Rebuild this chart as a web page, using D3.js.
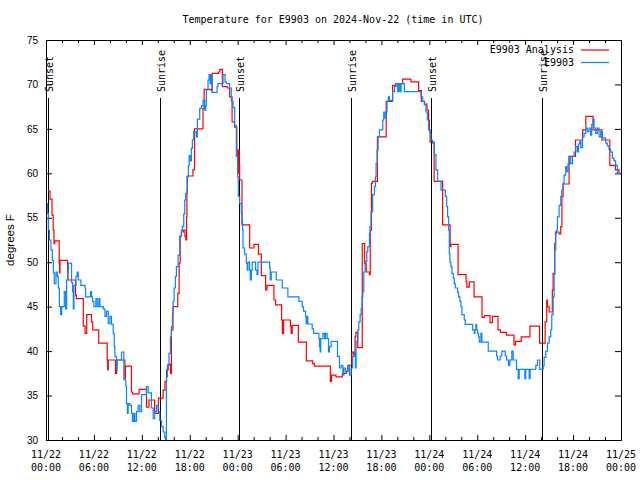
<!DOCTYPE html>
<html>
<head>
<meta charset="utf-8">
<script src="https://cdn.jsdelivr.net/npm/d3@7"></script>
<style>
  html, body { margin: 0; padding: 0; background: #fff; }
  svg { display: block; }
</style>
</head>
<body>
<svg id="chart" width="640" height="480"></svg>
<script>
// ---- Data (hours after 2024-11-22 00:00 UTC) ----
const titleText = "Temperature for E9903 on 2024-Nov-22 (time in UTC)";
const yLabel = "degrees F";
const seriesNames = ["E9903 Analysis", "E9903"];
const yTicks = [30, 35, 40, 45, 50, 55, 60, 65, 70, 75];
const xTickHours = [0, 6, 12, 18, 24, 30, 36, 42, 48, 54, 60, 66, 72];
const xTickLabels = [
  ["11/22", "00:00"], ["11/22", "06:00"], ["11/22", "12:00"], ["11/22", "18:00"],
  ["11/23", "00:00"], ["11/23", "06:00"], ["11/23", "12:00"], ["11/23", "18:00"],
  ["11/24", "00:00"], ["11/24", "06:00"], ["11/24", "12:00"], ["11/24", "18:00"],
  ["11/25", "00:00"]
];
const sunEventHours = [0.28, 14.25, 24.17, 38.17, 48.2, 62.17];
const sunEventNames = ["Sunset", "Sunrise", "Sunset", "Sunrise", "Sunset", "Sunrise"];

const analysisHours = [
  0.25, 0.5, 0.75, 0.9, 1.0, 1.1, 1.65, 1.7, 1.75, 2.7, 2.75, 3.7, 3.8, 4.67, 4.9, 5.1, 5.7, 5.85, 6.6, 7.66,
  7.72, 7.8, 8.7, 8.85, 9.875, 9.95, 10.7, 10.85, 11.66, 12.58, 12.9, 13.6, 14.08, 14.67, 14.9, 15.1, 15.3, 15.6, 15.7, 15.9,
  16.5, 16.67, 16.8, 16.95, 17.2, 17.4, 17.5, 17.6, 17.65, 17.7, 18.4, 18.6, 19.66, 19.8, 20.7, 20.8, 21.6, 21.75, 22.08, 22.7,
  23.0, 23.3, 23.6, 23.9, 24.0, 24.1, 24.2, 24.25, 24.54, 25.5, 26.04, 26.6, 26.96, 27.5, 27.67, 28.54, 28.75, 29.5, 29.6, 29.75,
  30.6, 30.7, 30.83, 31.6, 32.6, 33.4, 33.6, 35.6, 35.75, 36.3, 37.1, 37.6, 37.8, 38.3, 38.5, 38.7, 38.8, 39.04, 39.6, 39.9,
  40.1, 40.5, 40.6, 40.75, 40.9, 41.5, 42.6, 43.4, 43.8, 44.66, 45.7, 46.66, 47.0, 47.4, 47.7, 47.9, 48.0, 48.1, 48.6, 49.66,
  50.6, 50.7, 51.6, 52.6, 52.7, 53.0, 53.6, 54.6, 54.9, 55.6, 55.9, 56.6, 56.9, 57.66, 58.6, 58.8, 59.5, 60.6, 61.8, 62.5,
  62.7, 62.8, 63.0, 63.4, 63.5, 63.7, 63.8, 64.25, 64.45, 64.6, 64.75, 65.5, 66.3, 67.2, 67.6, 68.5, 69.6, 70.6, 71.3, 71.75, 71.9
];
const analysisTemps = [
  58.0, 57.1, 55.3, 53.6, 52.1, 52.4, 49.9, 48.8, 50.2, 49.1, 48.0, 46.3, 45.9, 42.8, 42.0, 44.1, 43.3, 42.4, 40.9, 39.0,
  37.9, 39.0, 37.5, 39.0, 36.9, 38.3, 35.4, 35.2, 35.7, 33.7, 34.5, 33.0, 34.7, 35.6, 36.6, 37.9, 38.5, 37.5, 42.4, 45.0,
  46.5, 49.9, 52.9, 53.4, 53.6, 52.9, 52.5, 55.1, 58.0, 59.7, 60.4, 65.0, 67.3, 69.45, 69.3, 71.25, 71.4, 71.7, 69.75, 69.6,
  68.6, 65.8, 65.2, 62.6, 60.0, 62.6, 61.0, 59.25, 54.2, 51.6, 52.0, 50.9, 48.5, 46.9, 47.4, 45.75, 45.2, 43.5, 42.0, 43.5,
  42.8, 42.0, 42.9, 41.0, 38.9, 38.6, 38.3, 36.6, 37.3, 37.1, 37.5, 37.7, 38.4, 39.9, 39.6, 41.6, 42.1, 40.4, 52.1, 49.9,
  48.9, 48.6, 53.6, 58.9, 59.1, 64.1, 68.1, 69.9, 70.1, 70.6, 70.3, 69.3, 68.1, 67.8, 67.1, 66.0, 64.9, 63.5, 59.1, 54.2,
  51.75, 52.0, 48.6, 47.8, 47.2, 47.8, 46.1, 43.8, 44.0, 43.2, 43.9, 42.4, 42.1, 41.8, 40.7, 41.1, 41.6, 42.8, 40.9, 43.3,
  45.75, 45.0, 44.4, 46.9, 48.75, 52.1, 53.4, 53.2, 54.0, 57.4, 58.8, 61.9, 63.75, 64.9, 66.4, 64.9, 63.75, 60.9, 60.4, 60.0, 60.0
];

const obsHours = [
  0.08, 0.2, 0.29, 0.42, 0.625, 0.79, 0.92, 1.04, 1.25, 1.42, 1.54, 1.67, 1.83, 1.96, 2.29, 2.46, 2.58, 2.71, 2.79, 3.2,
  3.33, 3.42, 3.5, 3.75, 3.92, 4.04, 4.375, 4.875, 4.96, 5.58, 5.71, 5.83, 6.0, 6.25, 6.42, 6.625, 6.75, 7.17, 7.375, 7.58,
  7.79, 8.0, 8.2, 8.42, 8.54, 8.625, 8.83, 8.92, 9.46, 9.75, 10.0, 10.08, 10.2, 10.29, 10.5, 10.71, 10.83, 11.0, 11.125, 11.33,
  11.54, 11.75, 11.96, 12.58, 12.79, 13.2, 13.42, 13.625, 13.83, 14.04, 14.25, 14.46, 14.67, 14.875, 14.96, 15.08, 15.2, 15.4, 15.58, 15.71,
  15.83, 15.92, 16.04, 16.2, 16.33, 16.54, 16.75, 16.96, 17.08, 17.25, 17.375, 17.5, 17.67, 17.83, 17.92, 18.08, 18.2, 18.33, 18.5, 18.83,
  18.96, 19.25, 19.46, 19.67, 19.875, 20.0, 20.08, 20.29, 20.42, 20.54, 20.67, 20.79, 21.42, 21.54, 22.17, 22.42, 22.58, 23.0, 23.2, 23.42,
  23.625, 23.83, 24.0, 24.08, 24.25, 24.46, 24.55, 24.62, 24.67, 24.875, 25.08, 25.2, 25.29, 25.5, 25.58, 25.71, 25.83, 26.25, 26.42, 26.54,
  28.0, 28.08, 28.2, 28.83, 29.58, 30.29, 31.67, 32.08, 32.25, 32.5, 32.58, 32.67, 32.79, 33.33, 33.5, 34.17, 34.25, 34.33, 34.4, 34.67,
  34.875, 35.0, 35.2, 35.375, 35.5, 35.7, 36.5, 36.75, 36.96, 37.17, 37.3, 37.5, 37.8, 38.0, 38.2, 38.4, 38.625, 38.75, 38.83, 39.04,
  39.17, 39.33, 39.46, 39.58, 39.67, 39.79, 39.96, 40.17, 40.29, 40.5, 40.58, 40.7, 40.9, 41.125, 41.25, 41.33, 41.46, 41.58, 41.75, 42.17,
  42.29, 42.46, 42.58, 42.7, 42.875, 43.0, 43.4, 43.625, 43.83, 44.04, 44.17, 44.33, 44.46, 44.875, 46.96, 47.17, 47.375, 47.58, 47.75, 47.9,
  48.08, 48.2, 48.4, 48.625, 48.83, 49.04, 49.46, 50.0, 50.17, 50.29, 50.42, 50.5, 50.58, 50.7, 50.83, 51.0, 51.125, 51.25, 51.54, 51.67,
  51.83, 51.96, 52.08, 52.375, 52.5, 53.42, 53.625, 53.7, 53.83, 53.92, 54.04, 54.17, 54.25, 54.46, 54.58, 55.375, 56.42, 56.54, 56.875, 57.08,
  57.5, 57.67, 57.92, 58.08, 58.33, 58.5, 58.92, 59.125, 59.25, 59.96, 60.08, 60.5, 60.625, 61.33, 61.54, 61.83, 62.25, 62.375, 62.58, 62.79,
  63.0, 63.2, 63.33, 63.5, 63.625, 63.7, 63.83, 63.92, 64.04, 64.25, 64.46, 64.58, 64.75, 64.875, 65.08, 65.2, 65.375, 65.5, 65.7, 65.92,
  66.125, 66.33, 66.54, 66.67, 66.83, 66.96, 67.17, 67.375, 67.58, 67.79, 68.0, 68.2, 68.33, 68.5, 68.625, 68.83, 69.04, 69.25, 69.46, 69.67,
  70.08, 70.29, 70.5, 70.7, 70.92, 71.125, 71.33, 71.54, 71.9
];
const obsTemps = [
  56.6, 55.5, 53.6, 52.5, 51.4, 50.2, 48.8, 47.6, 48.9, 48.4, 47.1, 45.0, 44.1, 45.0, 46.7, 44.75, 48.0, 48.75, 49.9, 47.7,
  46.7, 44.75, 47.4, 48.4, 48.9, 48.0, 47.4, 47.1, 46.1, 46.7, 46.1, 45.6, 45.0, 45.9, 45.0, 45.9, 45.0, 44.75, 43.9, 44.5,
  43.1, 43.9, 43.0, 42.0, 40.5, 39.4, 37.9, 39.0, 39.9, 36.75, 36.0, 34.1, 33.0, 34.1, 33.9, 33.0, 32.1, 33.0, 32.1, 33.2,
  33.9, 33.2, 35.1, 36.0, 35.3, 33.6, 32.4, 33.2, 33.9, 33.2, 32.2, 31.5, 30.9, 30.3, 29.5, 37.1, 38.4, 39.75, 41.6, 42.75,
  44.25, 45.6, 47.1, 48.4, 49.5, 50.8, 52.9, 53.6, 54.0, 55.4, 57.0, 57.75, 59.6, 60.9, 62.0, 61.4, 62.8, 63.75, 64.7, 64.1,
  66.1, 67.3, 67.6, 68.2, 67.1, 67.6, 69.4, 70.5, 71.1, 70.1, 71.1, 69.1, 69.75, 70.1, 71.1, 70.3, 70.1, 69.6, 68.1, 67.4,
  65.4, 61.9, 59.6, 57.4, 56.6, 55.5, 54.5, 53.6, 51.6, 50.9, 49.9, 49.1, 50.0, 49.1, 48.0, 49.1, 50.0, 49.1, 48.6, 50.0,
  49.4, 48.0, 48.9, 48.0, 47.1, 46.1, 45.6, 45.0, 44.5, 43.9, 43.1, 43.9, 43.05, 42.5, 42.0, 41.4, 40.5, 39.9, 41.4, 42.0,
  41.4, 42.0, 41.4, 39.9, 40.5, 41.1, 39.4, 38.1, 38.4, 37.3, 38.1, 37.75, 38.4, 37.3, 38.1, 39.4, 39.9, 38.1, 41.1, 42.4,
  43.3, 44.1, 44.75, 46.1, 46.7, 48.9, 50.1, 51.2, 51.75, 53.25, 54.0, 55.7, 57.6, 58.5, 59.6, 61.1, 62.6, 64.1, 64.9, 66.0,
  66.9, 66.2, 66.9, 68.1, 68.6, 68.2, 69.2, 69.75, 70.1, 69.2, 70.1, 69.2, 70.1, 69.2, 68.6, 68.1, 67.7, 66.9, 66.0, 64.9,
  64.5, 63.75, 63.4, 62.1, 60.4, 59.1, 58.1, 57.4, 56.25, 55.1, 53.6, 51.0, 50.0, 49.5, 48.75, 48.2, 47.6, 47.1, 46.6, 46.1,
  45.6, 45.0, 44.1, 43.5, 43.0, 42.4, 42.0, 42.4, 43.0, 42.4, 42.0, 41.6, 41.0, 42.0, 41.0, 40.0, 39.45, 39.0, 39.45, 40.0,
  39.45, 39.0, 38.4, 39.0, 40.0, 39.0, 37.95, 36.9, 37.95, 36.9, 37.95, 36.9, 37.95, 38.4, 39.0, 37.95, 38.4, 39.3, 40.0, 40.9,
  41.6, 42.4, 44.1, 46.1, 48.6, 51.4, 53.2, 53.6, 55.1, 56.4, 57.4, 58.1, 58.9, 59.8, 60.75, 60.2, 61.1, 61.9, 61.1, 61.9,
  62.4, 63.0, 62.4, 63.3, 63.6, 62.9, 64.1, 64.5, 65.1, 64.7, 65.1, 64.3, 65.5, 66.1, 65.1, 64.5, 65.1, 64.1, 64.7, 64.0,
  63.4, 63.1, 62.7, 62.4, 61.7, 61.4, 60.9, 60.0, 60.0
];

// ---- Chart ----
const W = 640, H = 480;
const margin = { left: 46, right: 19, top: 40, bottom: 40 };
const start = Date.UTC(2024, 10, 22, 0, 0);
const hourMs = 3600 * 1000;
const toDate = h => new Date(start + h * hourMs);

const svg = d3.select("#chart");
const x = d3.scaleUtc()
  .domain([toDate(0), toDate(72)])
  .range([margin.left, W - margin.right]);
const y = d3.scaleLinear()
  .domain([30, 75])
  .range([H - margin.bottom, margin.top]);

const monoFont = "'DejaVu Sans Mono', monospace";
const sansFont = "'Liberation Sans', Arial, sans-serif";

// Title
svg.append("text")
  .attr("x", 333).attr("y", 20)
  .attr("text-anchor", "middle").attr("dominant-baseline", "middle")
  .style("font-family", monoFont).style("font-size", "10px")
  .text(titleText);

// Y label
svg.append("text")
  .attr("transform", `translate(11,${(y(30) + y(75)) / 2}) rotate(-90)`)
  .attr("text-anchor", "middle").attr("dominant-baseline", "middle")
  .style("font-family", sansFont).style("font-size", "11.5px")
  .text(yLabel);

// Clip path for data
svg.append("clipPath").attr("id", "plotclip")
  .append("rect")
  .attr("x", margin.left).attr("y", margin.top)
  .attr("width", W - margin.left - margin.right)
  .attr("height", H - margin.top - margin.bottom);

// Axes
const majorTicks = xTickHours.map(toDate);
const minorTicks = d3.range(0, 73, 2).filter(h => h % 6 !== 0).map(toDate);

function styleAxis(g) {
  g.selectAll("path.domain").attr("stroke", "#000").attr("stroke-width", 1);
  g.selectAll(".tick line").attr("stroke", "#000").attr("stroke-width", 1);
}

svg.append("g").attr("transform", `translate(0,${y(30)})`)
  .call(d3.axisBottom(x).tickValues(majorTicks).tickSizeInner(-5).tickSizeOuter(0).tickFormat(""))
  .call(styleAxis);
svg.append("g").attr("transform", `translate(0,${y(30)})`)
  .call(d3.axisBottom(x).tickValues(minorTicks).tickSizeInner(-3).tickSizeOuter(0).tickFormat(""))
  .call(styleAxis);
svg.append("g").attr("transform", `translate(0,${y(75)})`)
  .call(d3.axisTop(x).tickValues(majorTicks).tickSizeInner(-5).tickSizeOuter(0).tickFormat(""))
  .call(styleAxis);
svg.append("g").attr("transform", `translate(0,${y(75)})`)
  .call(d3.axisTop(x).tickValues(minorTicks).tickSizeInner(-3).tickSizeOuter(0).tickFormat(""))
  .call(styleAxis);

const yAxisG = svg.append("g").attr("transform", `translate(${margin.left},0)`)
  .call(d3.axisLeft(y).tickValues(yTicks).tickSizeInner(-6).tickSizeOuter(0).tickPadding(8).tickFormat(d3.format("d")))
  .call(styleAxis);
yAxisG.selectAll(".tick text")
  .style("font-family", sansFont).style("font-size", "10px").attr("fill", "#000");
svg.append("g").attr("transform", `translate(${W - margin.right},0)`)
  .call(d3.axisRight(y).tickValues(yTicks).tickSizeInner(-6).tickSizeOuter(0).tickFormat(""))
  .call(styleAxis);

// X tick labels (two lines)
const xl = svg.append("g").style("font-family", monoFont).style("font-size", "10px");
xTickHours.forEach((h, i) => {
  const t = xl.append("text").attr("text-anchor", "middle")
    .attr("x", x(toDate(h)));
  t.append("tspan").attr("x", x(toDate(h))).attr("y", 458).text(xTickLabels[i][0]);
  t.append("tspan").attr("x", x(toDate(h))).attr("y", 471).text(xTickLabels[i][1]);
});

// Sunrise / sunset markers
const sun = svg.append("g");
sunEventHours.forEach((h, i) => {
  const sx = Math.round(x(toDate(h))) + 0.5;
  sun.append("line")
    .attr("x1", sx).attr("x2", sx)
    .attr("y1", 98).attr("y2", y(30))
    .attr("stroke", "#000").attr("stroke-width", 1);
  sun.append("text")
    .attr("transform", `translate(${sx + 1.5},92) rotate(-90)`)
    .attr("text-anchor", "start").attr("dominant-baseline", "middle")
    .style("font-family", monoFont).style("font-size", "10px")
    .text(sunEventNames[i]);
});

// Series
const analysisData = analysisHours.map((h, i) => ({ t: toDate(h), v: analysisTemps[i] }));
const obsData = obsHours.map((h, i) => ({ t: toDate(h), v: obsTemps[i] }));
const line = d3.line().x(d => x(d.t)).y(d => y(d.v)).curve(d3.curveStepAfter);

const plot = svg.append("g").attr("clip-path", "url(#plotclip)");
plot.append("path").datum(analysisData)
  .attr("d", line).attr("fill", "none")
  .attr("stroke", "#ff0000").attr("stroke-width", 1.2);
plot.append("path").datum(obsData)
  .attr("d", line).attr("fill", "none")
  .attr("stroke", "#0a84ff").attr("stroke-width", 1.2);

// Legend
const colors = ["#ff0000", "#0a84ff"];
const leg = svg.append("g");
seriesNames.forEach((name, i) => {
  const ly = 50 + i * 12.5;
  leg.append("text")
    .attr("x", 574).attr("y", ly)
    .attr("text-anchor", "end").attr("dominant-baseline", "middle")
    .style("font-family", monoFont).style("font-size", "10px")
    .text(name);
  leg.append("line")
    .attr("x1", 581).attr("x2", 609)
    .attr("y1", ly).attr("y2", ly)
    .attr("stroke", colors[i]).attr("stroke-width", 1.2);
});
</script>
</body>
</html>
